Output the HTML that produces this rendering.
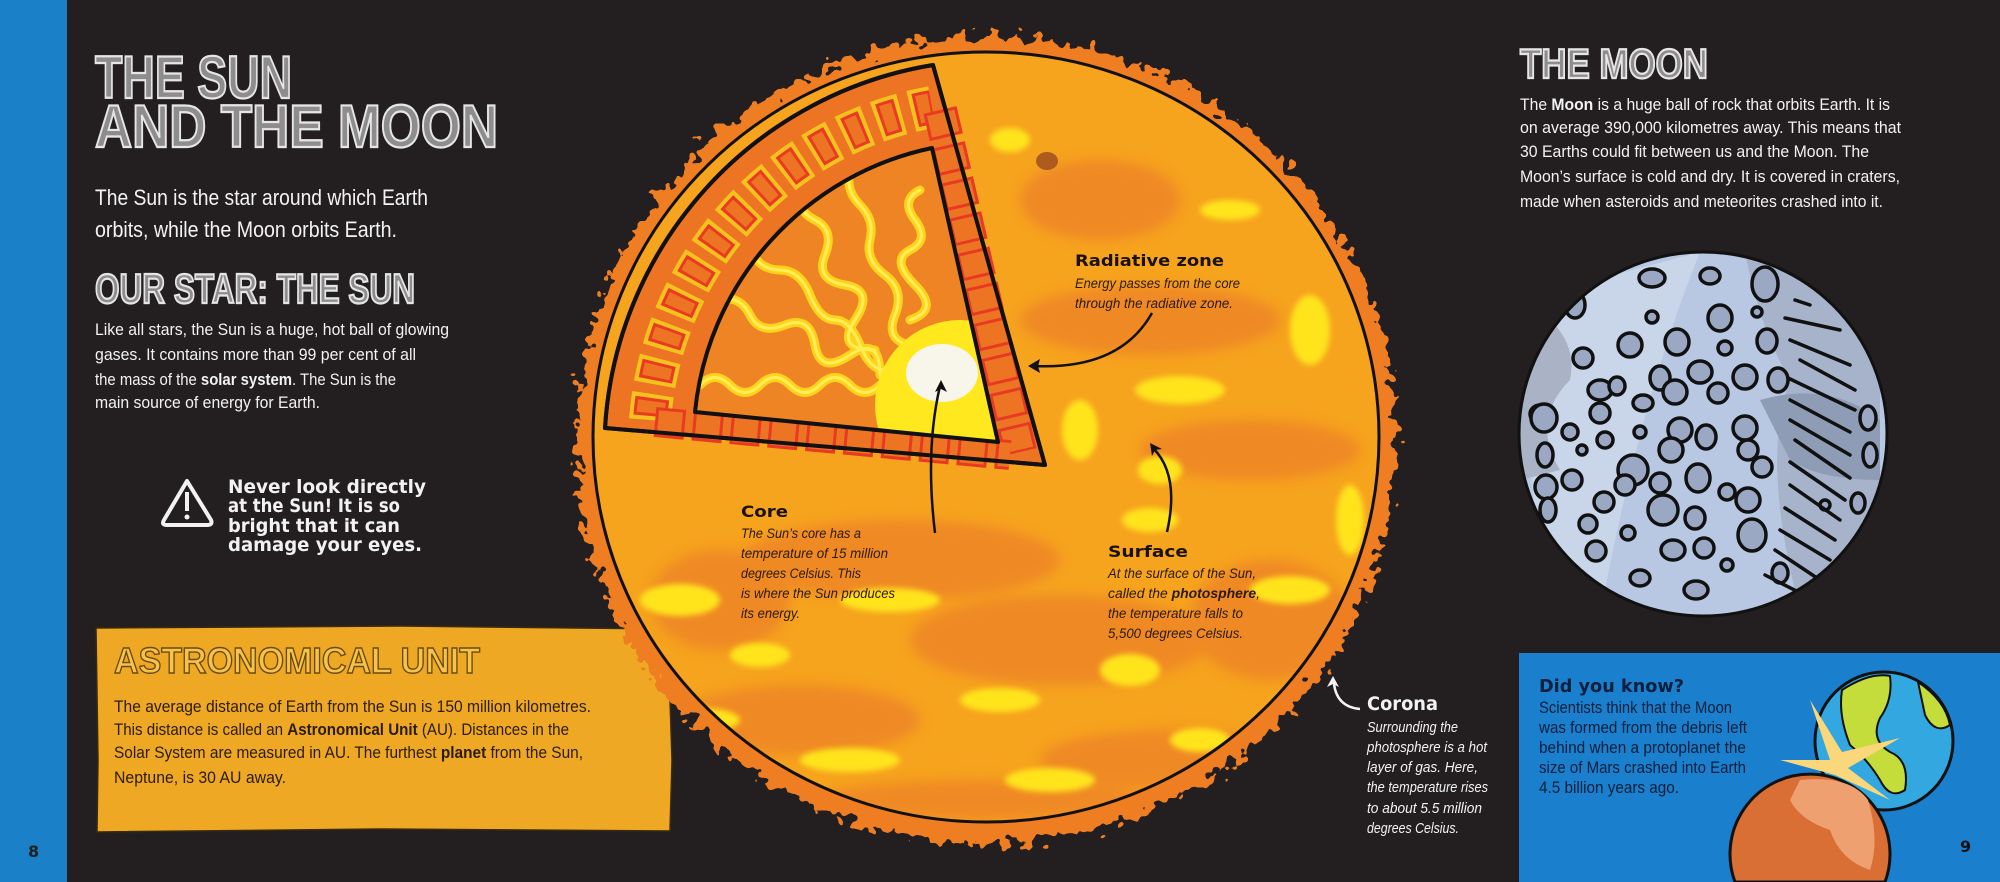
<!DOCTYPE html>
<html><head><meta charset="utf-8">
<style>
html,body{margin:0;padding:0;background:#231f20;width:2000px;height:882px;overflow:hidden;}
svg{display:block}
.t{font-family:"Liberation Sans",sans-serif;}
.w{fill:#f2f2f2}
.h{font-family:"DejaVu Sans","Liberation Sans",sans-serif;font-weight:bold;}
.i{font-family:"Liberation Sans",sans-serif;font-style:italic;}
</style></head>
<body>
<svg width="2000" height="882" viewBox="0 0 2000 882" xmlns="http://www.w3.org/2000/svg" overflow="hidden">
<defs>
<filter id="jag" filterUnits="userSpaceOnUse" x="540" y="0" width="900" height="882">
<feTurbulence type="fractalNoise" baseFrequency="0.09" numOctaves="2" seed="3"/>
<feDisplacementMap in="SourceGraphic" scale="34" xChannelSelector="R" yChannelSelector="G"/>
</filter>
<filter id="blur"><feGaussianBlur stdDeviation="6"/></filter>
<filter id="blur2"><feGaussianBlur stdDeviation="3"/></filter>
<clipPath id="page"><rect width="2000" height="882"/></clipPath>
<clipPath id="sunc"><ellipse cx="986" cy="437" rx="393" ry="385"/></clipPath>
<clipPath id="inner"><path d="M695,412 A300,300 0 0 1 932,148 L998,442 Z"/></clipPath>
<clipPath id="moonc"><ellipse cx="1703" cy="434" rx="184" ry="182"/></clipPath>
<clipPath id="boxc"><rect x="1519" y="653" width="481" height="229"/></clipPath>
</defs>
<g clip-path="url(#page)">
<rect width="2000" height="882" fill="#231f20"/>
<rect x="0" y="0" width="67" height="882" fill="#1a80c8"/>

<g class="t" font-weight="bold" fill="#8d8d8d" stroke="#e6e6e6" stroke-width="2.2">
<text x="95" y="98" font-size="60" textLength="197" lengthAdjust="spacingAndGlyphs">THE SUN</text>
<text x="95" y="147" font-size="60" textLength="403" lengthAdjust="spacingAndGlyphs">AND THE MOON</text>
<text x="95" y="303" font-size="42" textLength="320" lengthAdjust="spacingAndGlyphs">OUR STAR: THE SUN</text>
<text x="1520" y="78" font-size="42" textLength="188" lengthAdjust="spacingAndGlyphs">THE MOON</text>
</g>

<g class="t w" font-size="22">
<text x="95" y="205" textLength="333" lengthAdjust="spacingAndGlyphs">The Sun is the star around which Earth</text>
<text x="95" y="237" textLength="302" lengthAdjust="spacingAndGlyphs">orbits, while the Moon orbits Earth.</text>
</g>
<g class="t w" font-size="17">
<text x="95" y="335" textLength="354" lengthAdjust="spacingAndGlyphs">Like all stars, the Sun is a huge, hot ball of glowing</text>
<text x="95" y="360" textLength="321" lengthAdjust="spacingAndGlyphs">gases. It contains more than 99 per cent of all</text>
<text x="95" y="385" textLength="301" lengthAdjust="spacingAndGlyphs">the mass of the <tspan font-weight="bold">solar system</tspan>. The Sun is the</text>
<text x="95" y="408" textLength="225" lengthAdjust="spacingAndGlyphs">main source of energy for Earth.</text>
</g>

<path d="M187,481 L211,520 Q213,525 207,525 L167,525 Q161,525 164,520 Z" fill="none" stroke="#f2f2f2" stroke-width="4" stroke-linejoin="round"/>
<rect x="185" y="492" width="4" height="19" fill="#f2f2f2"/><circle cx="187" cy="517" r="2.5" fill="#f2f2f2"/>
<g class="h w" font-size="19">
<text x="228" y="493" textLength="198" lengthAdjust="spacingAndGlyphs">Never look directly</text>
<text x="228" y="512" textLength="172" lengthAdjust="spacingAndGlyphs">at the Sun! It is so</text>
<text x="228" y="532" textLength="172" lengthAdjust="spacingAndGlyphs">bright that it can</text>
<text x="228" y="551" textLength="194" lengthAdjust="spacingAndGlyphs">damage your eyes.</text>
</g>

<path d="M96,628 L400,626 L672,629 L670,700 L672,760 L670,831 L380,829 L97,832 L98,760 Z" fill="#efa823" stroke="#3a2a10" stroke-width="1.5"/>
<text class="t" x="114" y="673" font-size="36" font-weight="bold" fill="#f5c34a" stroke="#6b4a10" stroke-width="1.4" textLength="366" lengthAdjust="spacingAndGlyphs">ASTRONOMICAL UNIT</text>
<g class="t" font-size="17" fill="#2a1c08">
<text x="114" y="712" textLength="477" lengthAdjust="spacingAndGlyphs">The average distance of Earth from the Sun is 150 million kilometres.</text>
<text x="114" y="735" textLength="455" lengthAdjust="spacingAndGlyphs">This distance is called an <tspan font-weight="bold">Astronomical Unit</tspan> (AU). Distances in the</text>
<text x="114" y="758" textLength="469" lengthAdjust="spacingAndGlyphs">Solar System are measured in AU. The furthest <tspan font-weight="bold">planet</tspan> from the Sun,</text>
<text x="114" y="783" textLength="172" lengthAdjust="spacingAndGlyphs">Neptune, is 30 AU away.</text>
</g>
<text class="h" x="28" y="857" font-size="16" fill="#222">8</text>

<!-- SUN -->
<ellipse cx="986" cy="440" rx="410" ry="404" fill="#ef7d22" filter="url(#jag)"/>
<ellipse cx="986" cy="437" rx="393" ry="385" fill="#f6a31e"/>
<g clip-path="url(#sunc)">
<g filter="url(#blur)" fill="#ee8526" opacity="0.85">
<ellipse cx="900" cy="560" rx="160" ry="40"/>
<ellipse cx="1150" cy="320" rx="130" ry="35"/>
<ellipse cx="1250" cy="450" rx="110" ry="30"/>
<ellipse cx="1060" cy="640" rx="150" ry="45"/>
<ellipse cx="800" cy="720" rx="120" ry="35"/>
<ellipse cx="1170" cy="760" rx="130" ry="30"/>
<ellipse cx="1270" cy="620" rx="80" ry="60"/>
<ellipse cx="720" cy="600" rx="70" ry="50"/>
<ellipse cx="1100" cy="200" rx="80" ry="40"/>
<ellipse cx="980" cy="800" rx="160" ry="20"/>
</g>
<g filter="url(#blur2)" fill="#ffe41c">
<ellipse cx="1180" cy="390" rx="45" ry="14"/>
<ellipse cx="1230" cy="210" rx="30" ry="10"/>
<ellipse cx="1160" cy="470" rx="22" ry="14"/>
<ellipse cx="1310" cy="330" rx="20" ry="35"/>
<ellipse cx="1350" cy="520" rx="14" ry="35"/>
<ellipse cx="680" cy="600" rx="40" ry="16"/>
<ellipse cx="760" cy="655" rx="30" ry="12"/>
<ellipse cx="890" cy="600" rx="50" ry="12"/>
<ellipse cx="1000" cy="700" rx="40" ry="12"/>
<ellipse cx="1130" cy="670" rx="30" ry="16"/>
<ellipse cx="1290" cy="590" rx="40" ry="14"/>
<ellipse cx="700" cy="720" rx="40" ry="12"/>
<ellipse cx="850" cy="760" rx="50" ry="12"/>
<ellipse cx="1050" cy="780" rx="45" ry="12"/>
<ellipse cx="1200" cy="740" rx="30" ry="12"/>
<ellipse cx="1150" cy="520" rx="28" ry="12"/>
<ellipse cx="1080" cy="430" rx="18" ry="30"/>
<ellipse cx="1010" cy="140" rx="20" ry="12"/>
</g>
<ellipse cx="1047" cy="161" rx="11" ry="9" fill="#9b4a1e" opacity="0.8"/>
</g>
<ellipse cx="986" cy="437" rx="393" ry="385" fill="none" stroke="#111" stroke-width="3"/>

<path d="M605,428 A392,392 0 0 1 933,65 L1045,465 Z" fill="#ec7422" stroke="#111" stroke-width="4" stroke-linejoin="round"/>
<path d="M650,420 A345,345 0 0 1 932,107" fill="none" stroke="#f4c21f" stroke-width="42" stroke-dasharray="26 10"/>
<path d="M650,420 A345,345 0 0 1 932,107" fill="none" stroke="#ea3a22" stroke-width="34" stroke-dasharray="18 18" stroke-dashoffset="-4"/>
<path d="M650,420 A345,345 0 0 1 932,107" fill="none" stroke="#ec7422" stroke-width="28" stroke-dasharray="12 24" stroke-dashoffset="-7"/>
<path d="M940,110 L1020,452" fill="none" stroke="#e83a22" stroke-width="34" stroke-dasharray="28 8"/>
<path d="M940,110 L1020,452" fill="none" stroke="#ec7422" stroke-width="28" stroke-dasharray="22 14" stroke-dashoffset="-3"/>
<path d="M655,422 L1010,455" fill="none" stroke="#e83a22" stroke-width="30" stroke-dasharray="30 8"/>
<path d="M655,422 L1010,455" fill="none" stroke="#ec7422" stroke-width="24" stroke-dasharray="24 14" stroke-dashoffset="-3"/>
<path d="M605,428 A392,392 0 0 1 933,65 L1045,465 Z" fill="none" stroke="#111" stroke-width="4" stroke-linejoin="round"/>
<path d="M695,412 A300,300 0 0 1 932,148 L998,442 Z" fill="#ee8424"/>
<g clip-path="url(#inner)" fill="none" stroke-linecap="round">
<g stroke="#ffd21c" stroke-width="9">
<path d="M700,385 q15,-15 30,0 t30,0 t30,0 t30,0 t30,0 t30,0"/>
<path d="M720,300 q20,-5 30,15 t35,10 t30,20 t35,10 t30,20"/>
<path d="M750,250 q10,20 30,20 t30,25 t25,25 t25,25 t25,25"/>
<path d="M800,190 q-5,20 15,30 t10,35 t20,30 t10,35 t20,30"/>
<path d="M850,170 q-5,20 10,35 t10,35 t15,35 t10,40 t15,30"/>
<path d="M920,190 q-20,10 -5,30 t-5,30 t5,35 t-5,35"/>
</g>
<g stroke="#ffee55" stroke-width="3">
<path d="M700,385 q15,-15 30,0 t30,0 t30,0 t30,0 t30,0 t30,0"/>
<path d="M720,300 q20,-5 30,15 t35,10 t30,20 t35,10 t30,20"/>
<path d="M750,250 q10,20 30,20 t30,25 t25,25 t25,25 t25,25"/>
<path d="M800,190 q-5,20 15,30 t10,35 t20,30 t10,35 t20,30"/>
<path d="M850,170 q-5,20 10,35 t10,35 t15,35 t10,40 t15,30"/>
<path d="M920,190 q-20,10 -5,30 t-5,30 t5,35 t-5,35"/>
</g>
<circle cx="960" cy="405" r="85" fill="#ffe81e" stroke="none"/>
<ellipse cx="942" cy="373" rx="36" ry="29" fill="#f8f6ea" stroke="none"/>
</g>
<path d="M695,412 A300,300 0 0 1 932,148 L998,442 Z" fill="none" stroke="#111" stroke-width="4" stroke-linejoin="round"/>

<g class="h" fill="#1a1208">
<text x="1075" y="266" font-size="16" textLength="149" lengthAdjust="spacingAndGlyphs">Radiative zone</text>
<text x="741" y="517" font-size="16" textLength="47" lengthAdjust="spacingAndGlyphs">Core</text>
<text x="1108" y="557" font-size="16" textLength="80" lengthAdjust="spacingAndGlyphs">Surface</text>
</g>
<g class="i" fill="#2a1a08" font-size="13.5">
<text x="1075" y="288" textLength="165" lengthAdjust="spacingAndGlyphs">Energy passes from the core</text>
<text x="1075" y="308" textLength="158" lengthAdjust="spacingAndGlyphs">through the radiative zone.</text>
<text x="741" y="538" textLength="120" lengthAdjust="spacingAndGlyphs">The Sun’s core has a</text>
<text x="741" y="558" textLength="147" lengthAdjust="spacingAndGlyphs">temperature of 15 million</text>
<text x="741" y="578" textLength="120" lengthAdjust="spacingAndGlyphs">degrees Celsius. This</text>
<text x="741" y="598" textLength="154" lengthAdjust="spacingAndGlyphs">is where the Sun produces</text>
<text x="741" y="618" textLength="59" lengthAdjust="spacingAndGlyphs">its energy.</text>
<text x="1108" y="578" textLength="148" lengthAdjust="spacingAndGlyphs">At the surface of the Sun,</text>
<text x="1108" y="598" textLength="152" lengthAdjust="spacingAndGlyphs">called the <tspan font-weight="bold">photosphere</tspan>,</text>
<text x="1108" y="618" textLength="135" lengthAdjust="spacingAndGlyphs">the temperature falls to</text>
<text x="1108" y="638" textLength="135" lengthAdjust="spacingAndGlyphs">5,500 degrees Celsius.</text>
</g>
<g fill="none" stroke="#111" stroke-width="2.5">
<path d="M1152,313 Q1120,370 1034,366"/>
<path d="M935,533 Q925,450 940,386"/>
<path d="M1167,532 Q1180,475 1153,448"/>
</g>
<g fill="#111">
<path d="M1028,366 l12,-7 l-2,7 l2,7 z"/>
<path d="M941,380 l-6,12 l6,-3 l6,3 z"/>
<path d="M1150,443 l2,13 l3,-6 l7,-1 z"/>
</g>

<path d="M1360,709 Q1337,707 1334,684" fill="none" stroke="#f2f2f2" stroke-width="2.5"/>
<path d="M1333,676 l-6,11 l6,-3 l6,3 z" fill="#f2f2f2"/>
<text class="h w" x="1367" y="710" font-size="19" textLength="71" lengthAdjust="spacingAndGlyphs">Corona</text>
<g class="i w" font-size="15">
<text x="1367" y="732" textLength="91" lengthAdjust="spacingAndGlyphs">Surrounding the</text>
<text x="1367" y="752" textLength="120" lengthAdjust="spacingAndGlyphs">photosphere is a hot</text>
<text x="1367" y="772" textLength="111" lengthAdjust="spacingAndGlyphs">layer of gas. Here,</text>
<text x="1367" y="792" textLength="121" lengthAdjust="spacingAndGlyphs">the temperature rises</text>
<text x="1367" y="813" textLength="115" lengthAdjust="spacingAndGlyphs">to about 5.5 million</text>
<text x="1367" y="833" textLength="92" lengthAdjust="spacingAndGlyphs">degrees Celsius.</text>
</g>

<g class="t w" font-size="17">
<text x="1520" y="110" textLength="370" lengthAdjust="spacingAndGlyphs">The <tspan font-weight="bold">Moon</tspan> is a huge ball of rock that orbits Earth. It is</text>
<text x="1520" y="133" textLength="381" lengthAdjust="spacingAndGlyphs">on average 390,000 kilometres away. This means that</text>
<text x="1520" y="157" textLength="349" lengthAdjust="spacingAndGlyphs">30 Earths could fit between us and the Moon. The</text>
<text x="1520" y="182" textLength="380" lengthAdjust="spacingAndGlyphs">Moon’s surface is cold and dry. It is covered in craters,</text>
<text x="1520" y="207" textLength="363" lengthAdjust="spacingAndGlyphs">made when asteroids and meteorites crashed into it.</text>
</g>

<ellipse cx="1703" cy="434" rx="184" ry="182" fill="#b9c8e2"/>
<g clip-path="url(#moonc)">
<path d="M1700,252 Q1640,400 1600,616 L1540,600 L1520,300 Z" fill="#c9d5e9"/>
<path d="M1520,300 Q1580,330 1570,380 Q1530,420 1560,470 L1520,480 Z" fill="#a9b3c5"/>
<path d="M1745,252 Q1760,330 1790,380 Q1760,460 1800,610 L1880,520 L1880,300 Z" fill="#a7b3cb"/>
<path d="M1760,400 Q1830,380 1880,420 L1880,480 Q1820,480 1790,460 Z" fill="#8f9cb5"/>
<g fill="#9aa8c4" stroke="#111" stroke-width="3.5">
<ellipse cx="1575" cy="305" rx="10" ry="13"/><ellipse cx="1652" cy="278" rx="13" ry="9"/><ellipse cx="1710" cy="276" rx="10" ry="8"/><ellipse cx="1765" cy="284" rx="13" ry="17"/>
<ellipse cx="1652" cy="317" rx="6" ry="6"/><ellipse cx="1720" cy="318" rx="12" ry="13"/><ellipse cx="1757" cy="312" rx="5" ry="5"/>
<ellipse cx="1583" cy="358" rx="10" ry="10"/><ellipse cx="1630" cy="345" rx="12" ry="12"/><ellipse cx="1677" cy="342" rx="12" ry="13"/><ellipse cx="1725" cy="348" rx="7" ry="7"/><ellipse cx="1767" cy="341" rx="10" ry="12"/>
<ellipse cx="1540" cy="414" rx="10" ry="9"/><ellipse cx="1600" cy="390" rx="12" ry="10"/><ellipse cx="1660" cy="378" rx="10" ry="12"/><ellipse cx="1700" cy="372" rx="12" ry="11"/><ellipse cx="1745" cy="377" rx="12" ry="12"/>
<ellipse cx="1617" cy="386" rx="8" ry="9"/><ellipse cx="1675" cy="392" rx="12" ry="12"/><ellipse cx="1718" cy="393" rx="10" ry="10"/><ellipse cx="1778" cy="380" rx="10" ry="12"/>
<ellipse cx="1544" cy="418" rx="13" ry="14"/><ellipse cx="1600" cy="413" rx="10" ry="10"/><ellipse cx="1643" cy="403" rx="10" ry="8"/><ellipse cx="1680" cy="430" rx="12" ry="12"/><ellipse cx="1745" cy="428" rx="12" ry="12"/>
<ellipse cx="1545" cy="455" rx="8" ry="12"/><ellipse cx="1570" cy="432" rx="8" ry="8"/><ellipse cx="1605" cy="440" rx="8" ry="8"/><ellipse cx="1640" cy="432" rx="6" ry="6"/><ellipse cx="1706" cy="437" rx="10" ry="12"/><ellipse cx="1748" cy="450" rx="10" ry="10"/>
<ellipse cx="1546" cy="487" rx="11" ry="12"/><ellipse cx="1582" cy="450" rx="5" ry="5"/><ellipse cx="1633" cy="470" rx="15" ry="15"/><ellipse cx="1671" cy="450" rx="12" ry="12"/><ellipse cx="1698" cy="478" rx="12" ry="14"/><ellipse cx="1762" cy="467" rx="10" ry="10"/>
<ellipse cx="1572" cy="480" rx="10" ry="10"/><ellipse cx="1625" cy="485" rx="10" ry="10"/><ellipse cx="1660" cy="483" rx="10" ry="10"/><ellipse cx="1727" cy="492" rx="8" ry="8"/>
<ellipse cx="1548" cy="510" rx="8" ry="12"/><ellipse cx="1604" cy="502" rx="10" ry="10"/><ellipse cx="1663" cy="510" rx="15" ry="15"/><ellipse cx="1695" cy="518" rx="10" ry="11"/><ellipse cx="1748" cy="500" rx="12" ry="12"/>
<ellipse cx="1588" cy="524" rx="9" ry="9"/><ellipse cx="1628" cy="533" rx="7" ry="7"/><ellipse cx="1673" cy="550" rx="12" ry="10"/><ellipse cx="1704" cy="548" rx="10" ry="10"/><ellipse cx="1752" cy="535" rx="14" ry="16"/>
<ellipse cx="1596" cy="551" rx="10" ry="10"/><ellipse cx="1640" cy="578" rx="10" ry="8"/><ellipse cx="1696" cy="590" rx="12" ry="9"/><ellipse cx="1727" cy="565" rx="6" ry="6"/><ellipse cx="1780" cy="573" rx="8" ry="10"/>
<ellipse cx="1868" cy="418" rx="8" ry="12"/><ellipse cx="1870" cy="455" rx="7" ry="12"/><ellipse cx="1858" cy="503" rx="7" ry="10"/><ellipse cx="1825" cy="505" rx="5" ry="5"/>
</g>
<g stroke="#111" stroke-width="3.5" stroke-linecap="round">
<path d="M1795,300 L1810,305"/><path d="M1785,318 L1840,330"/><path d="M1790,340 L1850,365"/><path d="M1800,360 L1855,390"/>
<path d="M1788,378 L1855,410"/><path d="M1790,400 L1850,432"/><path d="M1790,420 L1850,455"/><path d="M1795,440 L1850,478"/>
<path d="M1790,462 L1845,500"/><path d="M1790,485 L1840,520"/><path d="M1785,508 L1835,540"/><path d="M1780,530 L1830,560"/>
<path d="M1775,550 L1820,580"/><path d="M1765,575 L1810,598"/>
</g>
</g>
<ellipse cx="1703" cy="434" rx="184" ry="182" fill="none" stroke="#111" stroke-width="3"/>

<rect x="1519" y="653" width="481" height="229" fill="#1a7fcc"/>
<circle cx="1884" cy="741" r="69" fill="#33a8e0" stroke="#111" stroke-width="3"/>
<path d="M1842,690 Q1870,672 1890,676 Q1893,700 1880,718 Q1870,740 1890,752 Q1910,760 1905,790 Q1890,800 1880,780 Q1868,760 1850,745 Q1838,715 1842,690 Z" fill="#c5dd3a" stroke="#111" stroke-width="2"/>
<path d="M1918,682 Q1945,700 1950,725 Q1935,735 1925,715 Z" fill="#c5dd3a" stroke="#111" stroke-width="2"/>
<path d="M1830,760 L1810,700 L1842,752 L1900,738 L1848,768 L1890,800 L1835,775 L1780,760 Z" fill="#f9d77a"/>
<path d="M1735,882 A80,80 0 1 1 1885,882 Z" fill="#d96f35" stroke="#111" stroke-width="3"/>
<path d="M1800,780 Q1850,775 1868,800 Q1880,840 1870,870 Q1840,860 1830,830 Q1800,820 1790,800 Z" fill="#eea070"/>
<text class="h" x="1539" y="692" font-size="18" fill="#0c1f3c" textLength="145" lengthAdjust="spacingAndGlyphs">Did you know?</text>
<g class="t" font-size="17" fill="#0c1f3c">
<text x="1539" y="713" textLength="193" lengthAdjust="spacingAndGlyphs">Scientists think that the Moon</text>
<text x="1539" y="733" textLength="208" lengthAdjust="spacingAndGlyphs">was formed from the debris left</text>
<text x="1539" y="753" textLength="207" lengthAdjust="spacingAndGlyphs">behind when a protoplanet the</text>
<text x="1539" y="773" textLength="207" lengthAdjust="spacingAndGlyphs">size of Mars crashed into Earth</text>
<text x="1539" y="793" textLength="140" lengthAdjust="spacingAndGlyphs">4.5 billion years ago.</text>
</g>
<text class="h" x="1960" y="852" font-size="16" fill="#111">9</text>
</g>
</svg>
</body></html>
